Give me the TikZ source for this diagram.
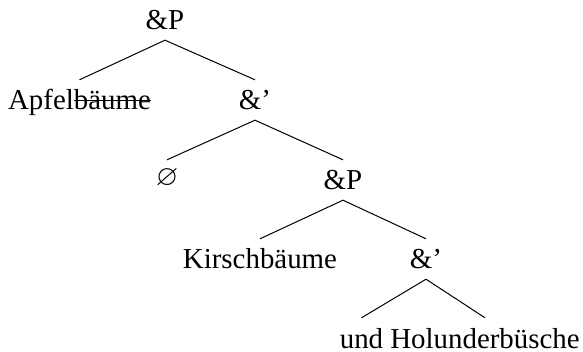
\documentclass[tikz,border=0pt]{standalone}
\usepackage{amssymb}
\usepackage{fontspec}
\setmainfont{Liberation Serif}
\newsavebox\strikebox
\newcommand\mystrike[1]{\sbox\strikebox{#1}\rlap{\rule[0.31em]{\wd\strikebox}{0.045em}}\usebox\strikebox}
\tikzset{
  lbl/.style={inner sep=0pt, text height=19pt, text depth=0pt, anchor=base, font=\fontsize{28.9}{34}\selectfont},
  edge/.style={line width=1pt}
}
\begin{document}
\begin{tikzpicture}[x=1pt,y=-1pt]
\useasboundingbox (0,0) rectangle (583,352);
\node[lbl] (p1) at (165,30) {\&P};
\node[lbl] (a1) at (79.5,110) {Apfel\mystrike{bäume}};
\node[lbl] (b1) at (255,110) {\&'};
\node[lbl] (e) at (167,186) {$\varnothing$};
\node[lbl] (p2) at (343,190) {\&P};
\node[lbl] (k) at (260,269) {Kirschbäume};
\node[lbl] (b2) at (426,269) {\&'};
\node[lbl] (u) at (361.5,348) {und};
\node[lbl] (h) at (485,348) {Holunderbüsche};
\draw[edge] ([yshift=-10pt]p1.south) -- ([yshift=11pt]a1.north);
\draw[edge] ([yshift=-10pt]p1.south) -- ([yshift=11pt]b1.north);
\draw[edge] ([yshift=-10pt]b1.south) -- ([yshift=7pt]e.north);
\draw[edge] ([yshift=-10pt]b1.south) -- ([yshift=11pt]p2.north);
\draw[edge] ([yshift=-10pt]p2.south) -- ([yshift=11pt]k.north);
\draw[edge] ([yshift=-10pt]p2.south) -- ([yshift=11pt]b2.north);
\draw[edge] ([yshift=-10pt]b2.south) -- ([yshift=11pt]u.north);
\draw[edge] ([yshift=-10pt]b2.south) -- ([yshift=11pt]h.north);
\end{tikzpicture}
\end{document}
